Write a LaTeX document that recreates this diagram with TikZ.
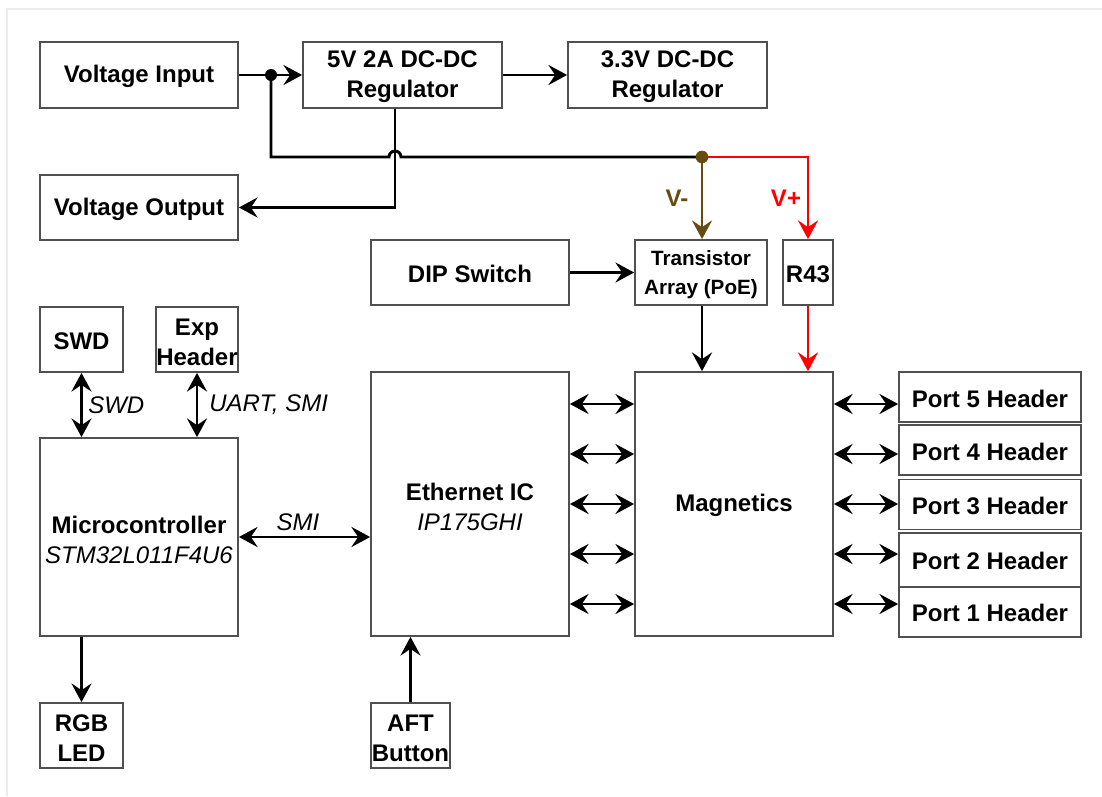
\documentclass[tikz,border=0pt]{standalone}
\usepackage{fontspec}
\setmainfont{Liberation Sans}
\usetikzlibrary{arrows.meta}
\definecolor{vminus}{RGB}{102,76,16}
\definecolor{framegray}{RGB}{236,236,236}
\definecolor{boxgray}{RGB}{80,80,80}
\definecolor{vred}{RGB}{255,0,0}
\begin{document}
\begin{tikzpicture}[x=0.75pt,y=-0.75pt,
  box/.style={draw=boxgray, line width=1.3pt, fill=white, rectangle, align=center,
    font=\fontsize{18}{22.5}\selectfont\bfseries, inner sep=0pt},
  conn/.style={line width=2.2pt},
  arr/.style={conn, -{Stealth[length=14pt,width=15pt,inset=5pt]}},
  darr/.style={conn, {Stealth[length=14pt,width=15pt,inset=5pt]}-{Stealth[length=14pt,width=15pt,inset=5pt]}},
  lbl/.style={font=\fontsize{18}{22.5}\selectfont\itshape, inner sep=0pt},
  vlbl/.style={font=\fontsize{18}{22.5}\selectfont\bfseries, inner sep=1pt, fill=white},
  dot/.style={circle, inner sep=0pt, minimum size=9pt},
  tx/.style={box, draw=none, fill=none}
]
\useasboundingbox (0,0) rectangle (1102,796);
\draw[framegray, line width=1.5pt] (7,796) -- (7,9) -- (1102,9);

% boxes
\node[box, minimum width=148.5pt, minimum height=49.5pt] (vin) at (139,75) {};
\node[tx] (vint) at (139,76) {Voltage Input};
\node[box, minimum width=149.25pt, minimum height=49.5pt] (reg5) at (402.5,75) {};
\node[tx] (reg5t) at (402.5,77) {5V 2A DC-DC\\Regulator};
\node[box, minimum width=149.25pt, minimum height=49.5pt] (reg33) at (667.5,75) {};
\node[tx] (reg33t) at (667.5,77) {3.3V DC-DC\\Regulator};
\node[box, minimum width=148.5pt, minimum height=48.75pt] (vout) at (139,207.5) {};
\node[tx] (voutt) at (139,209) {Voltage Output};
\node[box, minimum width=148.5pt, minimum height=48.75pt] (dip) at (470,272.5) {};
\node[tx] (dipt) at (470,274) {DIP Switch};
\node[box, minimum width=99pt, minimum height=48.75pt] (trans) at (701,272.5) {};
\node[tx, font=\fontsize{15.5}{21.75}\selectfont\bfseries] (transt) at (701,275) {Transistor\\Array (PoE)};
\node[box, minimum width=37.5pt, minimum height=48.75pt] (r43) at (808,272.5) {};
\node[tx] (r43t) at (808,274) {R43};
\node[box, minimum width=62.25pt, minimum height=48.75pt] (swd) at (81.5,339.5) {};
\node[tx] (swdt) at (81.5,341) {SWD};
\node[box, minimum width=61.5pt, minimum height=48.75pt] (exp) at (197,339.5) {};
\node[tx] (expt) at (197,342) {Exp\\Header};
\node[box, minimum width=148.5pt, minimum height=148.5pt] (mcu) at (139,537) {};
\node[tx] (mcut) at (139,540) {Microcontroller\\{\mdseries\itshape STM32L011F4U6}};
\node[box, minimum width=148.5pt, minimum height=198pt] (eth) at (470,504) {};
\node[tx] (etht) at (470,507) {Ethernet IC\\{\mdseries\itshape IP175GHI}};
\node[box, minimum width=148.5pt, minimum height=198pt] (mag) at (734,504) {};
\node[tx] (magt) at (734,505.5) {Magnetics};
\node[box, minimum width=136.5pt, minimum height=37.5pt] (p5) at (990,397) {};
\node[tx] (p5t) at (990,398.5) {Port 5 Header};
\node[box, minimum width=136.5pt, minimum height=37.5pt] (p4) at (990,450) {};
\node[tx] (p4t) at (990,451.5) {Port 4 Header};
\node[box, minimum width=136.5pt, minimum height=37.5pt] (p3) at (990,504.5) {};
\node[tx] (p3t) at (990,506) {Port 3 Header};
\node[box, minimum width=136.5pt, minimum height=40pt] (p2) at (990,560) {};
\node[tx] (p2t) at (990,560.5) {Port 2 Header};
\node[box, minimum width=136.5pt, minimum height=37.5pt] (p1) at (990,612) {};
\node[tx] (p1t) at (990,613) {Port 1 Header};
\node[box, minimum width=62.25pt, minimum height=48.75pt] (rgb) at (81.5,735.5) {};
\node[tx] (rgbt) at (81.5,738) {RGB\\LED};
\node[box, minimum width=59.25pt, minimum height=48.75pt] (aft) at (410.5,735.5) {};
\node[tx] (aftt) at (410.5,738) {AFT\\Button};

% junction coordinates
\coordinate (j1) at (271,75);
\coordinate (j2) at (702,157);
\coordinate (hop) at (395,157);

% power connectors
\draw[arr] (vin.east) -- (reg5.west);
\draw[arr] (reg5.east) -- (reg33.west);
\draw[conn] (j1) -- (j1 |- hop) -- ([xshift=-4.5pt]hop) arc[start angle=180, end angle=0, radius=4.5pt] -- (j2);
\draw[arr] (reg5.south -| hop) -- (hop |- vout.east) -- (vout.east);
\draw[arr, vminus] (j2) -- (j2 |- trans.north);
\draw[arr, vred] (j2) -- (j2 -| r43.north) -- (r43.north);
\node[dot, fill=black] (d1) at (j1) {};
\node[dot, fill=vminus, minimum size=9.5pt] (d2) at (j2) {};
\node[vlbl, text=vminus] (lvm) at (677,198) {V-};
\node[vlbl, text=vred] (lvp) at (786,198) {V+};

% middle
\draw[arr] (dip.east) -- (trans.west);
\draw[arr] (j2 |- trans.south) -- (j2 |- mag.north);
\draw[arr, vred] (r43.south) -- (r43.south |- mag.north);

% microcontroller
\draw[darr] (swd.south) -- (swd.south |- mcu.north);
\draw[darr] (exp.south) -- (exp.south |- mcu.north);
\node[lbl, anchor=west] (lswd) at (88,405) {SWD};
\node[lbl, anchor=west] (luart) at (209,405) {UART, SMI};
\draw[darr] (mcu.east) -- (mcu.east -| eth.west);
\node[lbl] (lsmi) at (298,522) {SMI};
\draw[arr] (rgb.north |- mcu.south) -- (rgb.north);
\draw[arr] (aft.north) -- (aft.north |- eth.south);

% ethernet to magnetics to ports
\foreach \yy/\pp in {404/p5,454/p4,504/p3,554/p2,604/p1}{
  \draw[darr] (eth.east |- 0,\yy) -- (mag.west |- 0,\yy);
  \draw[darr] (mag.east |- 0,\yy) -- (\pp.west |- 0,\yy);
}
\end{tikzpicture}
\end{document}
